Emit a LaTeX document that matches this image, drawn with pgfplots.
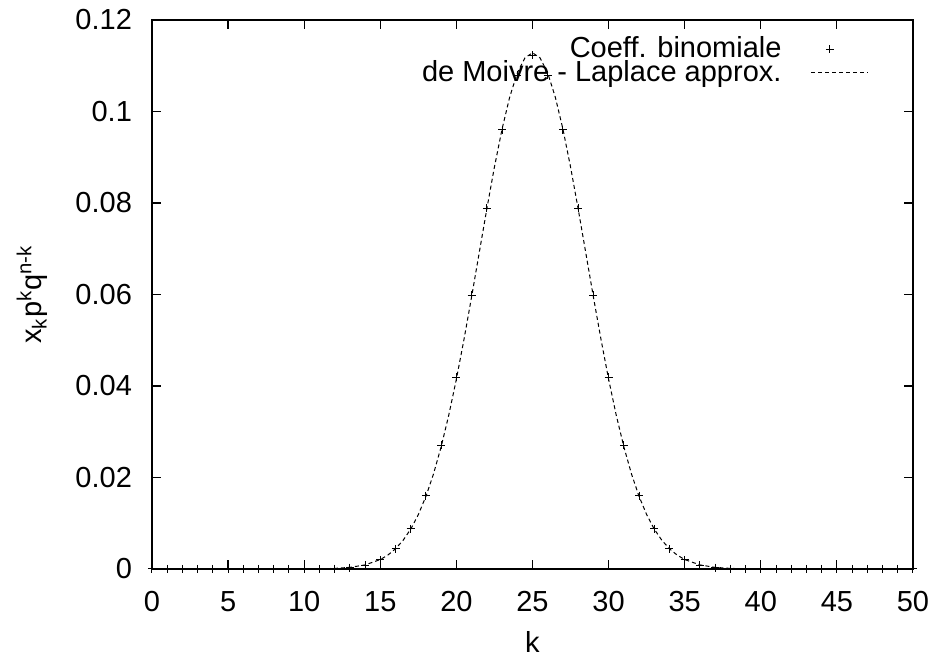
\documentclass[border=0pt]{standalone}
\usepackage{fontspec}
\setmainfont{Liberation Sans}
\usepackage{pgfplots}
\pgfplotsset{compat=1.18}
\pgfplotsset{
  plusleg/.style={legend image code/.code={\path[draw=none] (0cm,0cm) (1.45cm,0cm);
    \draw[##1] plot coordinates {(0.78cm,0cm)};}},
  dashleg/.style={legend image code/.code={\path[draw=none] (0cm,0cm);
    \draw[##1] (0.45cm,0cm) -- (1.45cm,0cm);}},
}

\begin{document}
\fontsize{14.5}{17}\selectfont
\begin{tikzpicture}
\useasboundingbox (-76pt,-44pt) rectangle (389.5pt,284.5pt);
\begin{axis}[
  scale only axis, width=380.5pt, height=274.5pt,
  xmin=0, xmax=50, ymin=0, ymax=0.12,
  xtick={0,5,...,50},
  ytick={0,0.02,0.04,0.06,0.08,0.1,0.12},
  yticklabels={0,0.02,0.04,0.06,0.08,0.1,0.12},
  tick align=inside, major tick length=4.5pt,
  tick style={line width=0.6pt, black},
  axis line style={line width=0.65pt},
  /pgf/number format/assume math mode=true,
  xticklabel style={yshift=-6pt},
  yticklabel style={xshift=-5pt},
  xlabel={k}, xlabel style={yshift=0pt},
  ylabel={x\textsubscript{k}p\textsuperscript{k}q\textsuperscript{n-k}},
  ylabel style={yshift=4pt},
  legend cell align=right,
  legend plot pos=right,
  legend style={draw=none, fill=none, at={(0.95,0.985)}, anchor=north east,
    row sep=-5pt, font=\fontsize{14.5}{17}\selectfont},
]
\addplot[only marks, mark=+, mark size=2pt, line width=0.5pt, plusleg] table {
k p
0 8.88e-16
1 4.44e-14
2 1.09e-12
3 1.74e-11
4 2.05e-10
5 1.88e-9
6 1.41e-8
7 8.87e-8
8 4.77e-7
9 2.23e-6
10 9.12e-6
11 3.32e-5
12 0.000108
13 0.000315
14 0.000833
15 0.001999
16 0.004373
17 0.008746
18 0.016035
19 0.027006
20 0.041859
21 0.059798
22 0.078826
23 0.095962
24 0.107957
25 0.112275
26 0.107957
27 0.095962
28 0.078826
29 0.059798
30 0.041859
31 0.027006
32 0.016035
33 0.008746
34 0.004373
35 0.001999
36 0.000833
37 0.000315
38 0.000108
39 3.32e-5
40 9.12e-6
41 2.23e-6
42 4.77e-7
43 8.87e-8
44 1.41e-8
45 1.88e-9
46 2.05e-10
47 1.74e-11
48 1.09e-12
49 4.44e-14
50 8.88e-16
};
\addlegendentry{Coeff. binomiale}
\addplot[no marks, line width=0.5pt, dash pattern=on 2pt off 1.5pt, dashleg] table {
x y
0 0
5 0
10 0.0000139
11 0.0000444
12 0.000131
13 0.000356
14 0.000892
15 0.002067
15.5 0.003053
16 0.004419
16.5 0.006271
17 0.008723
17.5 0.011893
18 0.015894
18.5 0.020821
19 0.026735
19.5 0.033648
20 0.041511
20.5 0.050197
21 0.059499
21.5 0.069128
22 0.078725
22.5 0.087878
23 0.096154
23.5 0.103126
24 0.108413
24.5 0.111715
25 0.112838
25.5 0.111715
26 0.108413
26.5 0.103126
27 0.096154
27.5 0.087878
28 0.078725
28.5 0.069128
29 0.059499
29.5 0.050197
30 0.041511
30.5 0.033648
31 0.026735
31.5 0.020821
32 0.015894
32.5 0.011893
33 0.008723
33.5 0.006271
34 0.004419
34.5 0.003053
35 0.002067
36 0.000892
37 0.000356
38 0.000131
39 0.0000444
40 0.0000139
45 0
50 0
};
\addlegendentry{de Moivre - Laplace approx.}
\end{axis}
\end{tikzpicture}
\end{document}
